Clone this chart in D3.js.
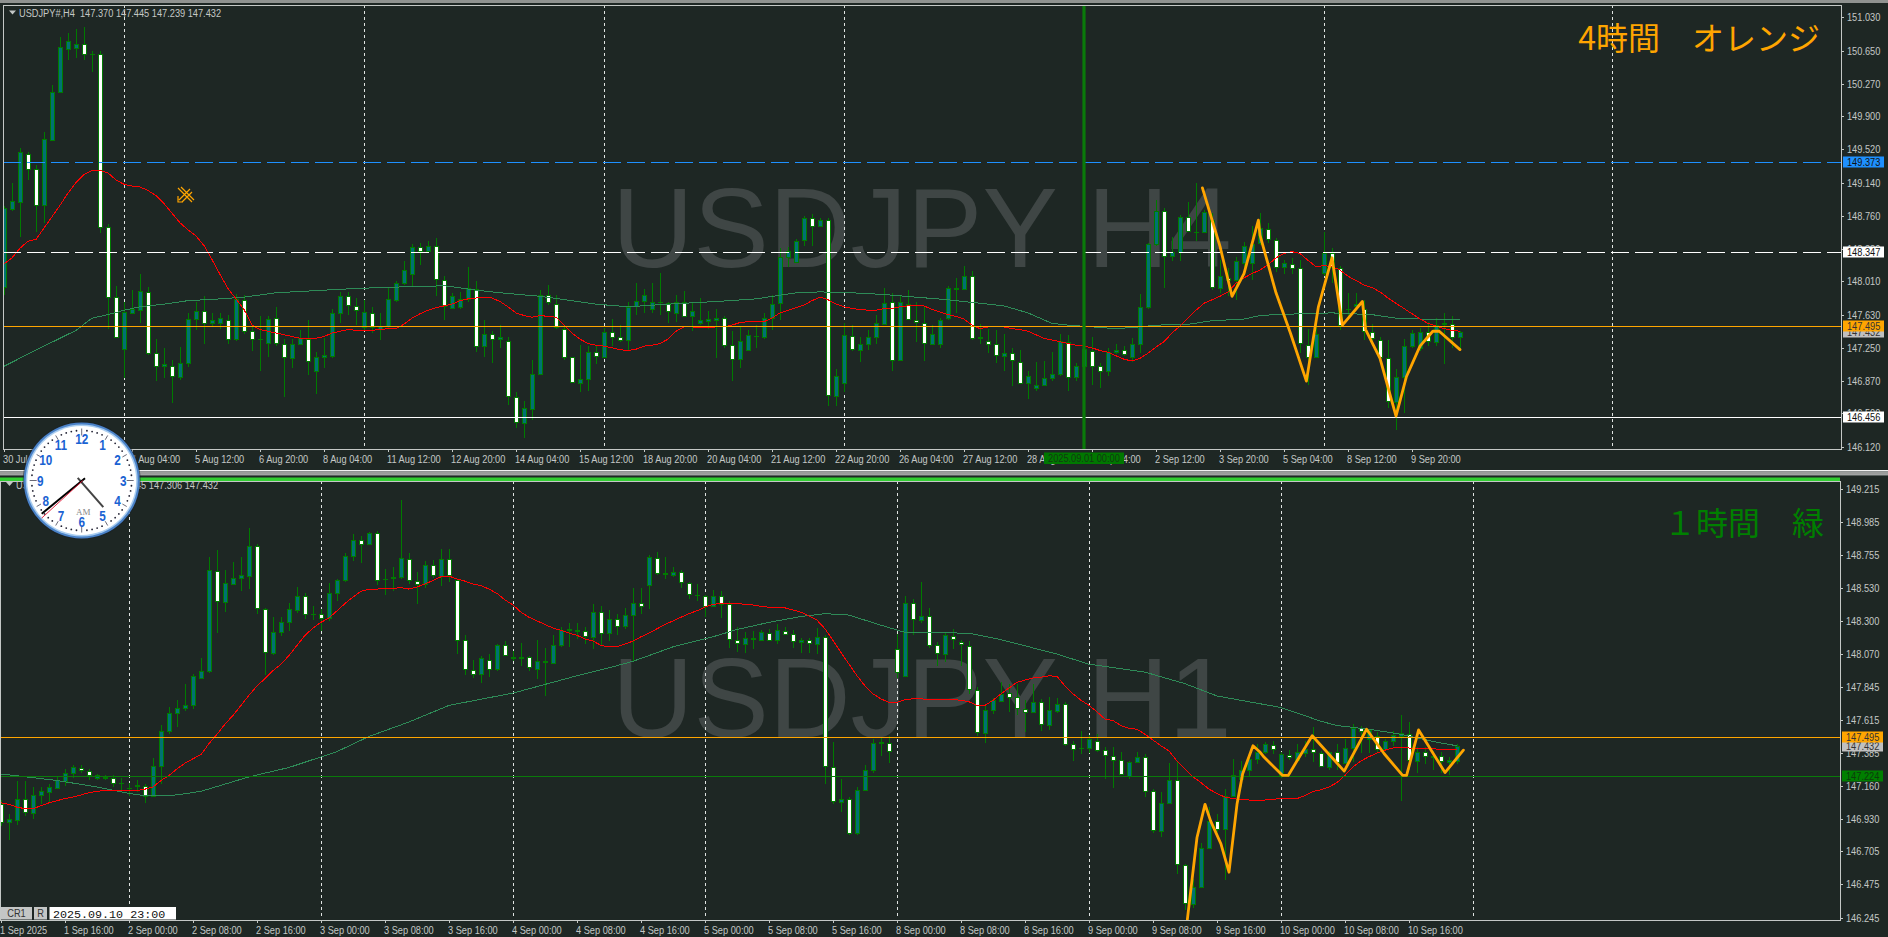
<!DOCTYPE html>
<html><head><meta charset="utf-8"><title>USDJPY H4 / H1</title>
<script src="https://cdn.jsdelivr.net/npm/d3@7/dist/d3.min.js"></script>
<style>html,body{margin:0;padding:0;background:#1e2724;overflow:hidden}svg{display:block}</style>
</head><body><svg id="c" width="1888" height="937"></svg>
<script>
const h4Open=[147.95,148.84,148.92,149.47,149.30,148.88,149.63,150.18,150.67,150.68,
150.73,150.61,150.61,148.63,147.83,147.24,147.65,147.68,147.89,147.19,
147.04,147.04,146.92,147.08,147.58,147.67,147.54,147.53,147.57,147.35,
147.80,147.44,147.35,147.31,147.59,147.30,147.13,147.29,147.35,146.99,
147.14,147.16,147.65,147.84,147.73,147.49,147.65,147.47,147.50,147.80,
147.99,148.10,148.40,148.36,148.42,148.03,147.71,147.72,147.81,147.92,
147.27,147.41,147.35,147.33,146.69,146.39,146.55,146.95,147.85,147.75,
147.47,147.14,146.85,146.89,147.20,147.15,147.43,147.37,147.34,147.73,
147.79,147.69,147.77,147.76,147.65,147.78,147.62,147.54,147.56,147.57,
147.59,147.28,147.12,147.23,147.39,147.38,147.59,147.76,148.29,148.23,
148.48,148.74,148.64,148.71,146.70,146.85,147.39,147.23,147.29,147.38,
147.52,147.78,147.11,147.75,147.57,147.54,147.30,147.29,147.59,147.94,
147.92,148.07,147.36,147.33,147.29,147.16,147.19,147.09,146.85,146.79,
146.82,146.90,146.95,147.32,146.92,147.04,147.22,147.04,146.98,147.20,
147.23,147.15,147.30,147.72,148.44,148.82,148.30,148.35,148.75,148.58,
148.58,148.71,147.94,148.05,148.03,148.22,148.22,148.45,148.61,148.48,
148.17,148.21,148.16,147.28,147.14,148.11,148.34,148.16,147.69,147.73,
147.69,147.43,147.34,147.13,146.63,146.92,147.27,147.25,147.43,147.32,
147.52,147.52,147.37];
const h4High=[148.87,149.14,149.53,149.49,149.34,149.72,150.26,150.80,150.85,150.90,
150.92,150.65,150.64,148.67,147.96,147.78,147.91,148.10,147.95,147.35,
147.25,147.11,147.26,147.65,147.78,147.84,147.65,147.65,147.63,147.87,
147.86,147.49,147.61,147.61,147.72,147.35,147.35,147.46,147.57,147.20,
147.36,147.69,147.89,147.89,147.82,147.80,147.72,147.65,147.95,148.01,
148.24,148.44,148.45,148.47,148.51,148.07,147.88,147.89,148.18,148.02,
147.57,147.44,147.51,147.37,146.75,146.64,147.11,147.91,147.97,147.86,
147.49,147.15,147.28,147.27,147.27,147.48,147.58,147.51,147.78,147.99,
147.92,147.99,148.11,147.78,147.85,147.90,147.78,147.82,147.67,147.69,
147.61,147.44,147.49,147.46,147.51,147.65,147.86,148.39,148.40,148.50,
148.76,148.78,148.73,148.73,147.01,147.53,147.51,147.37,147.46,147.63,
147.94,147.88,147.86,147.91,147.78,147.72,147.51,147.59,147.96,148.05,
148.19,148.13,147.52,147.47,147.46,147.41,147.25,147.23,146.99,147.09,
147.10,147.20,147.41,147.40,147.08,147.25,147.37,147.08,147.25,147.30,
147.27,147.36,147.87,148.45,148.94,148.85,148.52,148.77,148.92,149.13,
148.83,148.79,148.26,148.16,148.29,148.46,148.64,148.79,148.68,148.51,
148.26,148.28,148.26,147.47,147.51,148.58,148.39,148.19,147.88,147.88,
147.80,147.52,147.37,147.34,147.01,147.35,147.46,147.48,147.55,147.59,
147.65,147.61,147.445];
const h4Low=[147.86,148.82,148.52,149.17,148.58,148.68,149.62,150.17,150.54,150.57,
150.54,150.41,148.56,147.47,147.36,146.90,147.65,147.53,147.17,146.87,
146.91,146.62,146.88,147.03,147.45,147.30,147.49,147.47,147.30,147.33,
147.41,147.21,146.98,147.15,147.27,146.69,147.02,147.28,146.94,146.72,
147.02,147.13,147.54,147.63,147.51,147.46,147.42,147.34,147.47,147.78,
147.97,147.96,148.20,148.33,147.84,147.57,147.69,147.70,147.78,147.20,
147.15,147.08,147.25,146.60,146.33,146.22,146.42,146.94,147.74,147.47,
147.11,146.85,146.74,146.76,147.06,147.14,147.27,147.32,147.23,147.63,
147.65,147.65,147.63,147.53,147.55,147.61,147.44,147.51,147.47,147.13,
147.25,146.87,147.02,147.22,147.25,147.35,147.46,147.57,148.17,148.22,
148.41,148.41,148.63,146.58,146.58,146.75,147.21,147.09,147.23,147.29,
147.51,146.98,147.10,147.57,147.32,147.10,147.29,147.25,147.57,147.65,
147.91,147.34,147.29,147.19,147.08,146.99,146.81,146.84,146.66,146.76,
146.81,146.87,146.93,146.76,146.87,147.03,146.83,146.79,146.93,147.18,
147.16,147.09,147.19,147.70,148.41,147.93,148.24,148.24,148.58,148.47,
148.56,147.91,147.88,147.84,147.80,148.18,148.03,148.43,148.45,148.12,
148.09,148.09,147.19,146.83,147.13,148.07,147.99,147.46,147.57,147.70,
147.34,147.27,147.09,146.56,146.31,146.51,147.25,147.21,147.27,147.27,
147.07,147.25,147.239];
const h4Close=[148.85,148.93,149.49,149.30,148.88,149.64,150.18,150.69,150.76,150.73,
150.61,150.61,148.63,147.83,147.38,147.66,147.70,147.90,147.19,147.04,
147.06,146.93,147.08,147.58,147.67,147.54,147.57,147.59,147.35,147.81,
147.44,147.35,147.35,147.58,147.31,147.14,147.30,147.36,147.10,147.14,
147.17,147.65,147.84,147.74,147.68,147.66,147.49,147.50,147.81,147.99,
148.14,148.40,148.36,148.42,148.04,147.73,147.84,147.81,147.93,147.27,
147.41,147.35,147.37,146.70,146.40,146.56,146.95,147.85,147.78,147.49,
147.15,146.86,146.89,147.20,147.16,147.43,147.38,147.34,147.72,147.79,
147.86,147.77,147.77,147.67,147.78,147.62,147.67,147.57,147.58,147.59,
147.28,147.12,147.33,147.40,147.39,147.59,147.75,148.29,148.36,148.47,
148.74,148.64,148.71,146.71,146.93,147.40,147.24,147.29,147.38,147.53,
147.76,147.11,147.77,147.58,147.55,147.31,147.41,147.57,147.94,147.92,
148.07,147.36,147.38,147.30,147.17,147.19,147.11,146.85,146.93,146.82,
146.90,146.95,147.33,146.92,147.04,147.24,147.04,146.99,147.20,147.23,
147.18,147.30,147.72,148.44,148.82,148.30,148.35,148.75,148.59,148.58,
148.80,147.95,148.07,148.03,148.24,148.41,148.44,148.62,148.50,148.18,
148.22,148.16,147.31,147.15,147.41,148.34,148.18,147.51,147.70,147.75,
147.44,147.36,147.14,146.64,146.92,147.27,147.42,147.43,147.33,147.51,
147.53,147.38,147.432];
const h4MaFast=[148.21,148.28,148.39,148.47,148.49,148.62,148.75,148.88,149.02,149.14,149.23,149.28,149.28,149.25,149.17,149.12,149.10,149.09,149.05,148.99,148.90,148.79,148.68,148.60,148.53,148.42,148.26,148.09,147.93,147.81,147.69,147.51,147.46,147.44,147.42,147.40,147.38,147.36,147.36,147.36,147.38,147.42,147.44,147.46,147.45,147.45,147.45,147.46,147.47,147.47,147.52,147.59,147.64,147.68,147.71,147.73,147.75,147.79,147.81,147.82,147.83,147.82,147.78,147.72,147.65,147.62,147.60,147.62,147.61,147.60,147.51,147.42,147.35,147.30,147.28,147.27,147.25,147.23,147.22,
147.235,147.27,147.28,147.30,147.35,147.44,147.49,147.49,147.48,147.48,147.49,147.49,147.51,147.54,147.55,147.55,147.55,147.59,147.65,147.68,147.71,147.74,147.79,147.83,147.80,147.75,147.72,147.70,147.69,147.68,147.68,147.70,147.70,147.72,147.73,147.74,147.73,147.69,147.66,147.63,147.61,147.58,147.51,147.47,147.49,147.49,147.49,147.47,147.46,147.44,147.40,147.36,147.34,147.32,147.30,147.28,147.27,147.25,147.22,147.20,147.16,147.12,147.10,147.13,147.19,147.26,147.32,147.42,147.50,147.59,147.68,147.76,147.80,147.84,147.89,147.99,148.05,148.10,148.14,148.20,148.28,148.33,148.35,148.33,148.25,148.18,148.19,148.18,148.14,148.07,148.02,147.97,147.94,147.89,147.82,147.76,147.70,147.64,147.58,147.53,147.50,147.47,147.45,147.44];
const h4MaSlowBar=[0,5,9,11,13,15,17,20,23,27,30,34,38,42,47,51,55,56,59,62,67,71,74,78,83,89,94,99,102,106,110,114,118,122,125,128,131,133,136,139,142,144,148,151,155,157,159,162,166,171,174,177,182];
const h4MaSlow=[147.04,147.27,147.45,147.59,147.63,147.68,147.72,147.75,147.79,147.81,147.83,147.88,147.90,147.92,147.94,147.95,147.96,147.95,147.91,147.88,147.84,147.79,147.75,147.72,147.75,147.78,147.81,147.88,147.89,147.88,147.86,147.83,147.80,147.76,147.73,147.65,147.53,147.51,147.49,147.47,147.49,147.51,147.52,147.56,147.58,147.62,147.63,147.64,147.65,147.63,147.59,147.58,147.58];
const h4ZigBar=[149.8,152,153.5,155,156.8,157,159,160.8,162.8,164.3,166,167.3,169.8,170.2,172,174,175.3,177,178.6,179.4,182];
const h4Zig=[149.08,148.41,147.84,148.10,148.71,148.54,147.88,147.42,146.87,147.72,148.28,147.51,147.78,147.46,147.13,146.47,146.92,147.27,147.44,147.44,147.23];

const h1Open=[147.035,146.91,146.92,147.065,146.97,147.095,147.115,147.145,147.19,147.25,
147.28,147.26,147.21,147.215,147.21,147.175,147.14,147.155,147.16,147.085,
147.295,147.535,147.66,147.70,147.72,147.905,147.95,148.645,148.43,148.555,
148.60,148.61,148.82,148.385,148.08,148.225,148.295,148.375,148.475,148.35,
148.35,148.32,148.495,148.58,148.75,148.86,148.835,148.91,148.59,148.60,
148.605,148.73,148.575,148.555,148.69,148.61,148.725,148.585,148.165,147.96,
147.935,148.03,147.965,148.13,148.05,148.04,148.05,147.965,148.025,148.01,
148.135,148.24,148.24,148.23,148.19,148.36,148.215,148.315,148.265,148.34,
148.425,148.55,148.735,148.625,148.62,148.64,148.565,148.48,148.475,148.405,
148.475,148.42,148.17,148.14,148.175,148.17,148.215,148.17,148.23,148.21,
148.155,148.17,148.14,148.19,147.29,147.045,147.065,146.83,147.13,147.27,
147.455,147.455,148.105,147.92,148.425,148.305,148.335,148.135,148.07,148.195,
148.155,148.125,147.82,147.525,147.68,147.745,147.80,147.775,147.69,147.67,
147.74,147.58,147.675,147.725,147.45,147.42,147.42,147.47,147.405,147.365,
147.335,147.225,147.325,147.36,147.12,146.845,147.04,147.20,146.61,146.34,
146.46,146.725,146.915,146.86,147.09,147.205,147.265,147.345,147.39,147.44,
147.23,147.37,147.34,147.385,147.41,147.385,147.29,147.39,147.315,147.42,
147.555,147.48,147.505,147.41,147.47,147.505,147.52,147.33,147.395,147.355,
147.365,147.32,147.33];
const h1High=[147.06,146.96,147.19,147.19,147.15,147.15,147.17,147.22,147.275,147.30,
147.30,147.275,147.24,147.235,147.23,147.215,147.18,147.20,147.17,147.35,
147.58,147.705,147.75,147.86,147.93,148.045,148.74,148.79,148.65,148.705,
148.74,148.94,148.835,148.39,148.33,148.33,148.425,148.535,148.49,148.405,
148.385,148.56,148.59,148.77,148.90,148.89,148.915,148.92,148.66,148.67,
149.14,148.77,148.64,148.715,148.72,148.80,148.80,148.59,148.20,148.03,
148.06,148.07,148.14,148.16,148.09,148.145,148.06,148.17,148.11,148.20,
148.26,148.285,148.285,148.255,148.415,148.40,148.375,148.35,148.39,148.525,
148.525,148.755,148.775,148.74,148.67,148.65,148.57,148.555,148.48,148.515,
148.505,148.435,148.26,148.22,148.23,148.24,148.245,148.275,148.26,148.235,
148.18,148.18,148.25,148.20,147.46,147.205,147.08,147.15,147.30,147.48,
147.49,147.50,148.21,148.47,148.45,148.57,148.39,148.155,148.215,148.245,
148.17,148.16,147.84,147.72,147.765,147.875,147.865,147.865,147.75,147.865,
147.76,147.77,147.765,147.735,147.47,147.535,147.51,147.515,147.425,147.425,
147.395,147.33,147.395,147.38,147.135,147.115,147.315,147.33,146.615,146.51,
146.76,147.01,146.965,147.135,147.345,147.33,147.355,147.45,147.46,147.465,
147.39,147.405,147.45,147.47,147.565,147.40,147.40,147.45,147.48,147.585,
147.575,147.55,147.53,147.48,147.54,147.645,147.60,147.425,147.425,147.40,
147.39,147.355,147.445];
const h1Low=[146.88,146.78,146.885,146.95,146.93,147.035,147.045,147.135,147.155,147.21,
147.25,147.20,147.20,147.20,147.15,147.13,147.09,147.115,147.04,147.08,
147.17,147.515,147.565,147.675,147.69,147.90,147.94,148.215,148.36,148.545,
148.505,148.52,148.345,147.925,148.065,148.195,148.23,148.355,148.315,148.305,
148.23,148.30,148.44,148.57,148.715,148.70,148.83,148.55,148.48,148.505,
148.59,148.555,148.42,148.53,148.60,148.54,148.57,148.07,147.925,147.905,
147.87,147.91,147.955,148.055,148.025,147.99,147.955,147.90,147.78,148.005,
148.12,148.12,148.175,148.14,148.105,148.135,148.16,148.20,148.245,148.025,
148.345,148.385,148.62,148.59,148.605,148.53,148.45,148.44,148.325,148.395,
148.32,148.115,148.085,148.075,148.105,148.16,148.16,148.14,148.20,148.11,
148.075,148.075,148.07,147.17,147.03,146.98,146.815,146.815,147.125,147.25,
147.365,147.315,147.905,147.915,148.20,148.285,148.115,147.99,148.015,148.105,
147.99,147.795,147.505,147.455,147.655,147.735,147.67,147.645,147.53,147.66,
147.54,147.545,147.665,147.435,147.33,147.375,147.385,147.39,147.205,147.145,
147.23,147.205,147.315,147.08,146.83,146.805,147.03,146.545,146.30,146.315,
146.45,146.72,146.835,146.505,147.08,147.15,147.22,147.31,147.38,147.38,
147.215,147.335,147.32,147.36,147.32,147.285,147.265,147.265,147.31,147.32,
147.385,147.385,147.39,147.40,147.435,147.055,147.265,147.25,147.31,147.265,
147.25,147.235,147.306];
const h1Close=[146.91,146.93,147.065,146.98,147.095,147.125,147.15,147.195,147.25,147.285,
147.265,147.23,147.23,147.22,147.18,147.18,147.145,147.165,147.09,147.295,
147.535,147.66,147.70,147.72,147.915,147.955,148.65,148.435,148.56,148.60,
148.615,148.82,148.39,148.085,148.225,148.295,148.38,148.475,148.35,148.35,
148.32,148.495,148.58,148.75,148.86,148.835,148.91,148.585,148.59,148.605,
148.735,148.58,148.555,148.69,148.615,148.725,148.615,148.17,147.965,147.935,
148.04,147.97,148.13,148.065,148.04,148.05,147.98,148.025,148.015,148.135,
148.24,148.245,148.23,148.195,148.36,148.215,148.315,148.265,148.34,148.425,
148.405,148.74,148.63,148.63,148.64,148.57,148.485,148.48,148.40,148.475,
148.42,148.175,148.145,148.18,148.18,148.22,148.17,148.235,148.21,148.16,
148.17,148.145,148.19,147.295,147.05,147.07,146.83,147.13,147.27,147.455,
147.46,147.40,147.945,148.425,148.31,148.335,148.135,148.075,148.20,148.175,
148.14,147.825,147.53,147.68,147.75,147.795,147.77,147.70,147.67,147.74,
147.585,147.68,147.725,147.45,147.415,147.42,147.485,147.405,147.37,147.34,
147.24,147.325,147.36,147.12,146.85,147.04,147.20,146.62,146.345,146.46,
146.73,146.915,146.86,147.09,147.23,147.265,147.345,147.39,147.45,147.41,
147.375,147.355,147.39,147.415,147.39,147.295,147.395,147.32,147.42,147.56,
147.54,147.545,147.415,147.47,147.51,147.525,147.335,147.395,147.365,147.365,
147.33,147.335,147.432];
const h1MaFast=[147.04,147.03,147.01,147.00,147.00,147.02,147.04,147.055,147.07,147.08,147.095,147.11,147.12,147.125,147.125,147.125,147.125,147.125,147.135,147.15,147.195,147.23,147.275,147.315,147.345,147.375,147.45,147.515,147.585,147.645,147.715,147.785,147.85,147.90,147.955,148.00,148.06,148.13,148.20,148.25,148.29,148.32,148.37,148.42,148.465,148.505,148.52,148.52,148.525,148.525,148.53,148.52,148.535,148.555,148.58,148.605,148.61,148.59,148.575,148.555,148.545,148.52,148.49,148.445,148.41,148.36,148.325,148.30,148.275,148.25,148.235,148.215,148.20,148.175,148.16,148.13,148.12,148.12,148.14,
148.16,148.19,148.215,148.245,148.275,148.30,148.325,148.35,148.37,148.395,148.415,148.42,148.42,148.42,148.415,148.41,148.40,148.395,148.39,148.39,148.375,148.36,148.335,148.305,148.245,148.165,148.08,148.00,147.92,147.85,147.795,147.76,147.735,147.735,147.755,147.76,147.76,147.755,147.755,147.755,147.755,147.75,147.74,147.715,147.715,147.75,147.795,147.835,147.875,147.89,147.905,147.91,147.92,147.915,147.85,147.795,147.75,147.715,147.67,147.62,147.61,147.575,147.555,147.55,147.515,147.475,147.435,147.40,147.33,147.275,147.22,147.18,147.135,147.105,147.08,147.07,147.06,147.06,147.055,147.06,147.065,147.07,147.07,147.07,147.09,147.12,147.13,147.15,147.18,147.23,147.29,147.33,147.36,147.385,147.405,147.42,147.42,147.42,147.415,147.415,147.415,147.41,147.41,147.41];
const h1MaSlowBar=[0,7,12,16,18,20,22,25,31,36,42,46,51,56,64,72,76,79,84,89,92,96,100,103,106,110,113,121,125,132,136,143,148,152,157,160,165,167,171,175,179,182];
const h1MaSlow=[147.24,147.195,147.15,147.105,147.09,147.09,147.095,147.12,147.22,147.285,147.395,147.50,147.60,147.715,147.80,147.92,147.975,148.02,148.12,148.19,148.24,148.29,148.33,148.35,148.34,148.27,148.22,148.215,148.17,148.07,148.00,147.945,147.865,147.78,147.73,147.70,147.605,147.575,147.55,147.515,147.465,147.435];
const h1ZigBar=[148.3,149.5,150.5,151.2,152.5,153.5,154.5,155.2,156.5,157.4,157.9,160.2,160.9,163.9,167.9,170.7,172.9,175.2,175.7,177.2,180.5,182.8];
const h1Zig=[146.235,146.80,147.03,146.915,146.755,146.56,147.03,147.24,147.435,147.39,147.355,147.23,147.23,147.505,147.26,147.55,147.38,147.23,147.23,147.545,147.25,147.405];

const h4PriceTicks=[151.03,150.65,150.27,149.90,149.52,149.14,148.76,148.38,148.01,147.63,147.25,146.87,146.50,146.12];
const h1PriceTicks=[149.215,148.985,148.755,148.53,148.30,148.07,147.845,147.615,147.385,147.16,146.93,146.705,146.475,146.245];
const h4TimeLabels=["30 Jul 2025","1 Aug 12:00","4 Aug 04:00","5 Aug 12:00","6 Aug 20:00","8 Aug 04:00","11 Aug 12:00","12 Aug 20:00","14 Aug 04:00","15 Aug 12:00","18 Aug 20:00","20 Aug 04:00","21 Aug 12:00","22 Aug 20:00","26 Aug 04:00","27 Aug 12:00","28 Aug 20:00","1 Sep 04:00","2 Sep 12:00","3 Sep 20:00","5 Sep 04:00","8 Sep 12:00","9 Sep 20:00"];
const h1TimeLabels=["1 Sep 2025","1 Sep 16:00","2 Sep 00:00","2 Sep 08:00","2 Sep 16:00","3 Sep 00:00","3 Sep 08:00","3 Sep 16:00","4 Sep 00:00","4 Sep 08:00","4 Sep 16:00","5 Sep 00:00","5 Sep 08:00","5 Sep 16:00","8 Sep 00:00","8 Sep 08:00","8 Sep 16:00","9 Sep 00:00","9 Sep 08:00","9 Sep 16:00","10 Sep 00:00","10 Sep 08:00","10 Sep 16:00"];
const h4Separators=[15,45,75,105,165,201];
const h1Separators=[16,40,64,88,112,136,160,184];
const h4Levels=[{p:149.373,c:"#1e90ff",dash:"18 6",box:"#1e90ff",t:"#111"},{p:148.347,c:"#ffffff",dash:"18 6",box:"#ffffff",t:"#111"},{p:147.432,c:null,box:"#c0c0c0",t:"#333"},{p:147.495,c:"#ffa500",box:"#ffa500",t:"#333"},{p:146.456,c:"#ffffff",box:"#ffffff",t:"#111"}];
const h1Levels=[{p:147.224,c:"#0a7a0a",box:"#007f00",t:"#0c3c0c"},{p:147.432,c:null,box:"#c0c0c0",t:"#333"},{p:147.495,c:"#ffa500",box:"#ffa500",t:"#333"}];

const svg=d3.select("#c");
const BG="#1e2724",GREEN="#007b00",TEAL="#007272",GREY="#c4c8c6";
const UI_FONT="'Liberation Sans',sans-serif";
const UI_SIZE=11;
svg.append("rect").attr("width",1888).attr("height",937).attr("fill",BG);
svg.append("defs");

function panel(o){
  const g=svg.append("g");
  const x=d3.scaleLinear().domain([0,182]).range([o.x0,o.x0+8*182]);
  const y=d3.scaleLinear().domain(o.yDomain).range(o.yRange);
  const id=o.id;
  svg.select("defs").append("clipPath").attr("id",id).append("rect").attr("x",o.left).attr("y",o.top).attr("width",o.right-o.left).attr("height",o.bottom-o.top);
  const p=g.append("g").attr("clip-path",`url(#${id})`);
  p.append("text").attr("x",612).attr("y",o.wmY).attr("font-family",UI_FONT).attr("font-size",113).attr("fill","#3f4645").text(o.wm);
  p.selectAll(null).data(o.sep).join("line").attr("x1",d=>x(d)+.5).attr("x2",d=>x(d)+.5).attr("y1",o.top).attr("y2",o.bottom-3)
    .attr("stroke","#dfe3e1").attr("stroke-dasharray","3 3");
  const idx=d3.range(o.open.length);
  const cg=p.append("g").attr("shape-rendering","crispEdges");
  cg.selectAll(null).data(idx).join("line").attr("x1",i=>x(i)+.5).attr("x2",i=>x(i)+.5)
    .attr("y1",i=>Math.round(y(o.high[i]))).attr("y2",i=>Math.round(y(o.low[i]))).attr("stroke",GREEN);
  const ty=i=>Math.round(y(Math.max(o.open[i],o.close[i])));
  const by=i=>Math.round(y(Math.min(o.open[i],o.close[i])));
  cg.selectAll(null).data(idx).join("rect").attr("x",i=>x(i)-2).attr("width",5).attr("y",ty).attr("height",i=>Math.max(by(i)-ty(i)+1,1)).attr("fill",GREEN);
  cg.selectAll(null).data(idx.filter(i=>by(i)-ty(i)>=2)).join("rect").attr("x",i=>x(i)-1).attr("width",3).attr("y",i=>ty(i)+1).attr("height",i=>by(i)-ty(i)-1)
    .attr("fill",i=>o.close[i]>=o.open[i]?TEAL:"#ffffff");
  p.append("path").attr("fill","none").attr("stroke","#2e8b57").attr("shape-rendering","crispEdges").attr("d",d3.line().x(i=>x(o.slowBar[i])).y(i=>y(o.slow[i]))(d3.range(o.slow.length)));
  p.append("path").attr("fill","none").attr("stroke","#ff0000").attr("shape-rendering","crispEdges").attr("d",d3.line().x((d,i)=>x(i)).y(d=>y(d))(o.fast));
  o.levels.filter(l=>l.c).forEach(l=>{
    const yy=Math.round(y(l.p))+.5;
    p.append("line").attr("x1",o.left).attr("x2",o.right).attr("y1",yy).attr("y2",yy).attr("stroke",l.c).attr("stroke-dasharray",l.dash||null).attr("shape-rendering","crispEdges");
  });
  if(o.extra)o.extra(p,x,y);
  p.append("path").attr("fill","none").attr("stroke","#ffa500").attr("stroke-width",2.8).attr("stroke-linejoin","round").attr("stroke-linecap","round")
    .attr("d",d3.line().x(i=>x(o.zigBar[i])).y(i=>y(o.zig[i]))(d3.range(o.zig.length)));
  g.append("path").attr("fill","none").attr("stroke",GREY).attr("shape-rendering","crispEdges")
    .attr("d",`M${o.left+.5},${o.top+.5}H${o.right+.5}V${o.bottom+.5}H${o.left+.5}Z`);
  const ax=g.append("g").attr("font-family",UI_FONT).attr("font-size",UI_SIZE).attr("fill",GREY);
  ax.selectAll(null).data(o.priceTicks).join("line").attr("x1",o.right).attr("x2",o.right+3).attr("y1",d=>Math.round(y(d))+.5).attr("y2",d=>Math.round(y(d))+.5).attr("stroke",GREY);
  ax.selectAll(null).data(o.priceTicks).join("text").attr("x",o.right+6).attr("y",d=>y(d)+4).text(d=>d3.format(".3f")(d));
  o.levels.forEach(l=>{
    const yy=Math.round(y(l.p));
    ax.append("rect").attr("x",o.right+2).attr("y",yy-5.5).attr("width",41).attr("height",11).attr("fill",l.box);
    ax.append("text").attr("x",o.right+6).attr("y",yy+4).attr("fill",l.t).text(d3.format(".3f")(l.p));
  });
  const tk=d3.range(o.timeLabels.length).map(k=>({b:k*8,t:o.timeLabels[k]}));
  const tx=g.append("g").attr("font-family",UI_FONT).attr("font-size",UI_SIZE).attr("fill",GREY);
  tx.selectAll(null).data(tk).join("line").attr("x1",d=>x(d.b)+.5).attr("x2",d=>x(d.b)+.5).attr("y1",o.bottom).attr("y2",o.bottom+3).attr("stroke",GREY);
  tx.selectAll(null).data(tk).join("text").attr("x",d=>x(d.b)-1).attr("y",o.bottom+14).text(d=>d.t);
  g.append("path").attr("d",`M${o.hx-10},${o.hy-3}h7l-3.5,4z`).attr("fill",GREY);
  g.append("text").attr("x",o.hx).attr("y",o.hy+4).attr("font-family",UI_FONT).attr("font-size",UI_SIZE).attr("fill",GREY).attr("xml:space","preserve").text(o.head);
  g.append("text").attr("x",o.noteX).attr("y",o.noteY).attr("text-anchor","end").attr("font-family","'Noto Sans CJK JP',sans-serif").attr("font-size",32).attr("fill",o.noteC).text(o.note);
  return {x,y};
}

svg.append("rect").attr("width",1888).attr("height",3).attr("fill","#8f9290");
svg.append("rect").attr("y",470).attr("width",1888).attr("height",1.5).attr("fill","#f0f0f0");
svg.append("rect").attr("y",471.5).attr("width",1888).attr("height",3).attr("fill","#9a9c9b");
svg.append("rect").attr("y",474.5).attr("width",1888).attr("height",.8).attr("fill","#e8e8e8");

panel({id:"pTop",x0:4,left:3,right:1841,top:5,bottom:449,yDomain:[146.12,151.03],yRange:[446.7,17.3],
  open:h4Open,high:h4High,low:h4Low,close:h4Close,fast:h4MaFast,slowBar:h4MaSlowBar,slow:h4MaSlow,zigBar:h4ZigBar,zig:h4Zig,
  sep:h4Separators,levels:h4Levels,priceTicks:h4PriceTicks,timeLabels:h4TimeLabels,wm:"USDJPY H4",wmY:267,
  head:"USDJPY#,H4  147.370 147.445 147.239 147.432",hx:19,hy:13.5,note:"4時間　オレンジ",noteX:1820,noteY:50,noteC:"#ffa500",
  extra:(p,x)=>{p.append("line").attr("x1",x(135)).attr("x2",x(135)).attr("y1",5).attr("y2",449).attr("stroke","#0a7a0a").attr("stroke-width",3.2);}});

svg.append("rect").attr("x",1044).attr("y",452.5).attr("width",80).attr("height",11.5).attr("fill","#007800");
svg.append("text").attr("x",1048).attr("y",462).attr("font-family",UI_FONT).attr("font-size",UI_SIZE).attr("fill","#123a12").text("2025.09.01 00:00");

panel({id:"pBot",x0:1,left:0,right:1840,top:481,bottom:920,yDomain:[146.245,149.215],yRange:[917.7,488.7],
  open:h1Open,high:h1High,low:h1Low,close:h1Close,fast:h1MaFast,slowBar:h1MaSlowBar,slow:h1MaSlow,zigBar:h1ZigBar,zig:h1Zig,
  sep:h1Separators,levels:h1Levels,priceTicks:h1PriceTicks,timeLabels:h1TimeLabels,wm:"USDJPY H1",wmY:737,
  head:"USDJPY#,H1  147.330 147.445 147.306 147.432",hx:16,hy:485,note:"１時間　緑",noteX:1824,noteY:535,noteC:"#007f00"});

svg.append("rect").attr("x",0).attr("y",477.5).attr("width",1840).attr("height",3.5).attr("fill","#32cd32");

const b=svg.append("g").attr("font-family",UI_FONT).attr("font-size",UI_SIZE);
[[1,31,"CR1"],[34,13,"R"]].forEach(d=>{
  b.append("rect").attr("x",d[0]).attr("y",907).attr("width",d[1]).attr("height",12.5).attr("fill","#c4c6c5");
  b.append("text").attr("x",d[0]+d[1]/2).attr("y",917.5).attr("text-anchor","middle").attr("fill","#333").text(d[2]);
});
svg.append("rect").attr("x",49.5).attr("y",907).attr("width",126.5).attr("height",12.5).attr("fill","#fff");
svg.append("text").attr("x",53).attr("y",917.5).attr("font-family","'Liberation Mono',monospace").attr("font-size",11.7).attr("fill","#111").text("2025.09.10 23:00");

const pen=svg.append("g").attr("fill","none").attr("stroke","#ffa500").attr("stroke-width",1.2);
pen.append("path").attr("d","M178,188l14,14M181,187l13,13M179,200l11,-11M182,202l10,-10M178,196v6h5");

const ck=svg.append("g").attr("transform","translate(81.7,480.5)");
ck.append("circle").attr("r",59).attr("fill","#17202a").attr("opacity",.5);
ck.append("circle").attr("r",58).attr("fill","#4a82c8");
ck.append("circle").attr("r",56).attr("fill","#a9cdf0");
ck.append("circle").attr("r",54.5).attr("fill","#ffffff");
const clockNums=[12,1,2,3,4,5,6,7,8,9,10,11];
ck.selectAll(null).data(d3.range(60)).join("circle")
  .attr("cx",d=>50*Math.sin(d*Math.PI/30)).attr("cy",d=>-50*Math.cos(d*Math.PI/30)).attr("r",d=>d%5?0.9:0).attr("fill","#223");
ck.selectAll(null).data(d3.range(0,60,5)).join("line")
  .attr("x1",d=>(d%15?47:45)*Math.sin(d*Math.PI/30)).attr("y1",d=>-(d%15?47:45)*Math.cos(d*Math.PI/30))
  .attr("x2",d=>52*Math.sin(d*Math.PI/30)).attr("y2",d=>-52*Math.cos(d*Math.PI/30)).attr("stroke","#445").attr("stroke-width",.8);
ck.selectAll(null).data(clockNums).join("text").attr("text-anchor","middle")
  .attr("x",(d,i)=>41.5*Math.sin(i*Math.PI/6)).attr("y",(d,i)=>-41.5*Math.cos(i*Math.PI/6)+5)
  .attr("font-family",UI_FONT).attr("font-weight","bold").attr("font-size",14).attr("fill","#1a62d2").text(d=>d);
ck.append("text").attr("x",1.5).attr("y",34).attr("text-anchor","middle").attr("font-family","'Liberation Serif',serif").attr("font-size",9).attr("fill","#888").text("AM");
ck.append("line").attr("x1",-4).attr("y1",-2.7).attr("x2",21.6).attr("y2",26.7).attr("stroke","#444").attr("stroke-width",2);
ck.append("line").attr("x1",3.3).attr("y1",-2.3).attr("x2",-40).attr("y2",33.3).attr("stroke","#000").attr("stroke-width",2);
ck.append("line").attr("x1",1).attr("y1",0).attr("x2",-40).attr("y2",37.6).attr("stroke","#e01030").attr("stroke-width",.9);

// condense the interface labels horizontally to the terminal's narrow face
const NARROW_X=0.84;
svg.selectAll("text").filter(function(){
  const cs=getComputedStyle(this);
  return cs.fontFamily.indexOf("Liberation Sans")>=0 && parseFloat(cs.fontSize)<=15;
}).each(function(){
  const tx=+this.getAttribute("x");
  this.setAttribute("transform",`translate(${tx*(1-NARROW_X)},0) scale(${NARROW_X},1)`);
});
</script></body></html>
